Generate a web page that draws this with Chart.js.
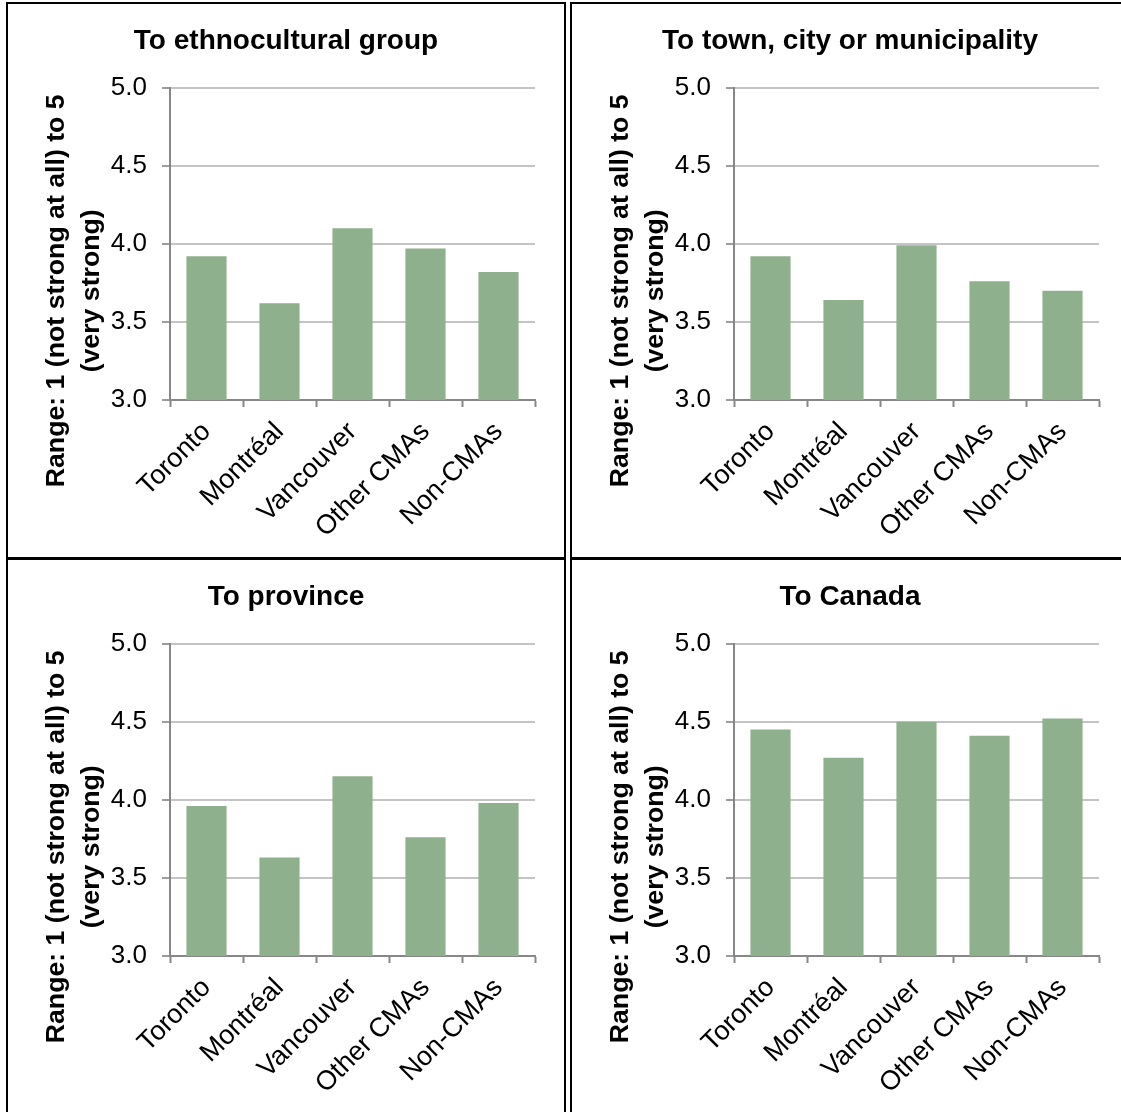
<!DOCTYPE html>
<html>
<head>
<meta charset="utf-8">
<title>Sense of belonging by place of residence</title>
<script src="https://cdn.jsdelivr.net/npm/chart.js@4.4.1/dist/chart.umd.min.js"></script>
<style>
  html, body { margin: 0; padding: 0; background: #fff; overflow: hidden; width: 1121px; height: 1112px; }
  .panel { position: absolute; width: 556px; height: 553px; border: 2px solid #000; background: #fff; box-sizing: content-box; }
  canvas { display: block; }
</style>
</head>
<body>
<div class="panel" style="left:6px;top:2px"><canvas id="c1" width="556" height="553"></canvas></div>
<div class="panel" style="left:570px;top:2px"><canvas id="c2" width="556" height="553"></canvas></div>
<div class="panel" style="left:6px;top:558px"><canvas id="c3" width="556" height="553"></canvas></div>
<div class="panel" style="left:570px;top:558px"><canvas id="c4" width="556" height="553"></canvas></div>
<script>
// Regions of residence (x-axis categories)
const categories = ['Toronto', 'Montréal', 'Vancouver', 'Other CMAs', 'Non-CMAs'];

// Average strength of belonging, scale 1 to 5
const ethnoculturalGroup = [3.92, 3.62, 4.10, 3.97, 3.82];
const townCityMunicipality = [3.92, 3.64, 3.99, 3.76, 3.70];
const province = [3.96, 3.63, 4.15, 3.76, 3.98];
const canada = [4.45, 4.27, 4.50, 4.41, 4.52];

// Panel titles
const panelTitles = ['To ethnocultural group', 'To town, city or municipality', 'To province', 'To Canada'];

// Value axis
const yTickValues = [3.0, 3.5, 4.0, 4.5, 5.0];
const yAxisTitle = ['Range: 1 (not strong at all) to 5', '(very strong)'];

const FONT = '"Liberation Sans", Arial, Helvetica, sans-serif';
const BAR_COLOR = '#8fb08c';
const AXIS_COLOR = '#878787';
const GRID_COLOR = '#c4c4c4';

Chart.defaults.font.family = FONT;
Chart.defaults.color = '#000';

// Two-line rotated value-axis title, drawn as canvas text beside the tick labels
const yTitlePlugin = {
  id: 'yTitle',
  afterDraw(chart) {
    const { ctx, chartArea } = chart;
    const lineGap = 35;
    const cy = (chartArea.top + chartArea.bottom) / 2 + 47;
    const x0 = chartArea.left - 113;
    ctx.save();
    ctx.font = 'bold 26.7px ' + FONT;
    ctx.fillStyle = '#000';
    ctx.textAlign = 'center';
    ctx.textBaseline = 'middle';
    yAxisTitle.forEach((line, i) => {
      ctx.save();
      ctx.translate(x0 + i * lineGap, cy);
      ctx.rotate(-Math.PI / 2);
      ctx.fillText(line, 0, 0);
      ctx.restore();
    });
    ctx.restore();
  }
};

function makePanel(canvasId, title, values) {
  return new Chart(document.getElementById(canvasId), {
    type: 'bar',
    data: {
      labels: categories,
      datasets: [{
        data: values,
        backgroundColor: BAR_COLOR,
        borderWidth: 0,
        barPercentage: 0.55,
        categoryPercentage: 1.0
      }]
    },
    options: {
      responsive: false,
      animation: false,
      layout: { padding: { left: 29, right: 29, top: 0, bottom: 0 } },
      plugins: {
        legend: { display: false },
        tooltip: { enabled: false },
        title: {
          display: true,
          text: title,
          color: '#000',
          font: { size: 28, weight: 'bold', lineHeight: 1.2 },
          padding: { top: 20, bottom: 30 }
        }
      },
      scales: {
        x: {
          grid: {
            display: true,
            drawOnChartArea: false,
            drawTicks: true,
            tickLength: 7,
            tickWidth: 2,
            tickColor: AXIS_COLOR,
            offset: true
          },
          border: { display: true, color: AXIS_COLOR, width: 2 },
          ticks: {
            autoSkip: false,
            minRotation: 45,
            maxRotation: 45,
            padding: 9,
            color: '#000',
            font: { size: 27 }
          },
          afterFit(scale) { scale.height = 157; }
        },
        y: {
          min: yTickValues[0],
          max: yTickValues[yTickValues.length - 1],
          afterBuildTicks(scale) { scale.ticks = yTickValues.map(v => ({ value: v })); },
          grid: {
            color: GRID_COLOR,
            lineWidth: 2,
            drawTicks: true,
            tickLength: 8,
            tickColor: '#9c9c9c',
            tickWidth: 2
          },
          border: { display: true, color: AXIS_COLOR, width: 2 },
          ticks: {
            padding: 15,
            color: '#000',
            font: { size: 26 },
            callback: v => Number(v).toFixed(1)
          },
          afterFit(scale) { scale.width = 133; }
        }
      }
    },
    plugins: [yTitlePlugin]
  });
}

makePanel('c1', panelTitles[0], ethnoculturalGroup);
makePanel('c2', panelTitles[1], townCityMunicipality);
makePanel('c3', panelTitles[2], province);
makePanel('c4', panelTitles[3], canada);
</script>
</body>
</html>
